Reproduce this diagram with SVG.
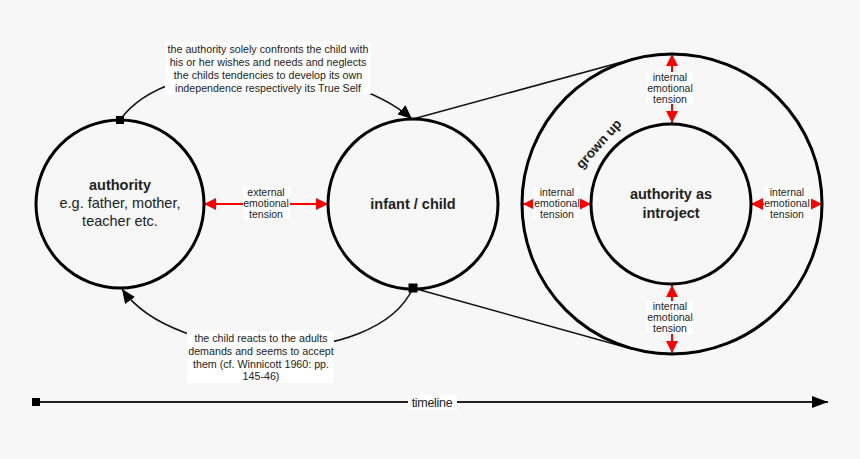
<svg xmlns="http://www.w3.org/2000/svg" width="860" height="459" viewBox="0 0 860 459">
<defs>
<style>
.circ{fill:none;stroke:#000;stroke-width:3}
.line{fill:none;stroke:#111;stroke-width:1.6}
.red{fill:none;stroke:#ff0000;stroke-width:2;marker-start:url(#ra);marker-end:url(#ra)}
.box{fill:#fff}
.lbl{font-family:"Liberation Sans",Arial,sans-serif;font-size:10.7px;fill:#222;text-anchor:middle}
.t{font-family:"Liberation Sans",Arial,sans-serif;font-size:10.5px;fill:#222;text-anchor:middle}
.big{font-family:"Liberation Sans",Arial,sans-serif;font-size:14.5px;fill:#222;text-anchor:middle}
.b{font-weight:bold}
</style>
<marker id="ra" viewBox="0 0 12 12" refX="12" refY="6" markerWidth="12" markerHeight="12" markerUnits="userSpaceOnUse" orient="auto-start-reverse">
<path d="M0,0 L12,6 L0,12 Z" fill="#ff0000"/>
</marker>
<marker id="ba" viewBox="0 0 14 12" refX="14" refY="6" markerWidth="14" markerHeight="12" markerUnits="userSpaceOnUse" orient="auto">
<path d="M0,0 L14,6 L0,12 Z" fill="#000"/>
</marker>
<marker id="ta" viewBox="0 0 16 12" refX="16" refY="6" markerWidth="16" markerHeight="12" markerUnits="userSpaceOnUse" orient="auto">
<path d="M0,0 L16,6 L0,12 Z" fill="#000"/>
</marker>
</defs>
<rect width="860" height="459" fill="#f7f7f7"/>

<g id="connectors">
<path class="line" d="M413,119 L633,59"/>
<path class="line" d="M413,288 L632,349"/>
<path class="line" d="M120,120 C170,50 345,60 412,119" marker-end="url(#ba)"/>
<path class="line" d="M413,288 C375,370 175,365 122,289" marker-end="url(#ba)"/>
<path class="red" d="M204,204 L328,204"/>
<path class="red" d="M672,54 L672,123"/>
<path class="red" d="M672,285 L672,353"/>
<path class="red" d="M523,204 L591,204"/>
<path class="red" d="M751,204 L822,204"/>
<rect x="116" y="116" width="8" height="8" fill="#000"/>
<rect x="408.5" y="283.5" width="9" height="9" fill="#000"/>
</g>

<g id="authority">
<circle class="circ" cx="120" cy="204" r="84"/>
<text class="big b" x="120" y="190">authority</text>
<text class="big" x="120" y="208">e.g. father, mother,</text>
<text class="big" x="120" y="226">teacher etc.</text>
</g>

<g id="infant">
<circle class="circ" cx="413" cy="204" r="85"/>
<text class="big b" x="413" y="209">infant / child</text>
</g>

<g id="grownup">
<circle class="circ" cx="672" cy="204" r="150"/>
<text class="big b" style="font-size:13.5px" x="0" y="0" transform="translate(602,147) rotate(-48)">grown up</text>
</g>

<g id="introject">
<circle class="circ" cx="671" cy="204" r="80"/>
<text class="big b" x="671" y="199">authority as</text>
<text class="big b" x="671" y="218">introject</text>
</g>

<g id="label-top">
<rect class="box" x="165" y="42" width="206" height="52"/>
<text class="lbl" x="268" y="53">the authority solely confronts the child with</text>
<text class="lbl" x="268" y="66">his or her wishes and needs and neglects</text>
<text class="lbl" x="268" y="79">the childs tendencies to develop its own</text>
<text class="lbl" x="268" y="92">independence respectively its True Self</text>
</g>

<g id="label-bottom">
<rect class="box" x="187" y="331" width="147" height="52"/>
<text class="lbl" x="261" y="342">the child reacts to the adults</text>
<text class="lbl" x="261" y="355">demands and seems to accept</text>
<text class="lbl" x="261" y="367.5">them (cf. Winnicott 1960: pp.</text>
<text class="lbl" x="261" y="380">145-46)</text>
</g>

<g id="label-external">
<rect class="box" x="243" y="187" width="47" height="32"/>
<text class="t" x="266" y="195.5">external</text>
<text class="t" x="266" y="206.5">emotional</text>
<text class="t" x="266" y="217.5">tension</text>
</g>

<g id="label-int-top">
<rect class="box" x="646" y="72" width="47" height="32"/>
<text class="t" x="670" y="80.5">internal</text>
<text class="t" x="670" y="91.5">emotional</text>
<text class="t" x="670" y="102.5">tension</text>
</g>

<g id="label-int-bottom">
<rect class="box" x="646" y="301" width="47" height="33"/>
<text class="t" x="670" y="309.5">internal</text>
<text class="t" x="670" y="320.5">emotional</text>
<text class="t" x="670" y="331.5">tension</text>
</g>

<g id="label-int-left">
<rect class="box" x="533" y="187" width="47" height="32"/>
<text class="t" x="557" y="195.5">internal</text>
<text class="t" x="557" y="206.5">emotional</text>
<text class="t" x="557" y="217.5">tension</text>
</g>

<g id="label-int-right">
<rect class="box" x="764" y="187" width="47" height="32"/>
<text class="t" x="787" y="195.5">internal</text>
<text class="t" x="787" y="206.5">emotional</text>
<text class="t" x="787" y="217.5">tension</text>
</g>

<g id="timeline">
<path d="M36,402 L828,402" fill="none" stroke="#222" stroke-width="2" marker-end="url(#ta)"/>
<rect x="32" y="398" width="8" height="8" fill="#000"/>
<rect class="box" x="408" y="395" width="49" height="15"/>
<text class="t" style="font-size:12.5px;letter-spacing:-0.3px" x="432" y="406.5">timeline</text>
</g>
</svg>
